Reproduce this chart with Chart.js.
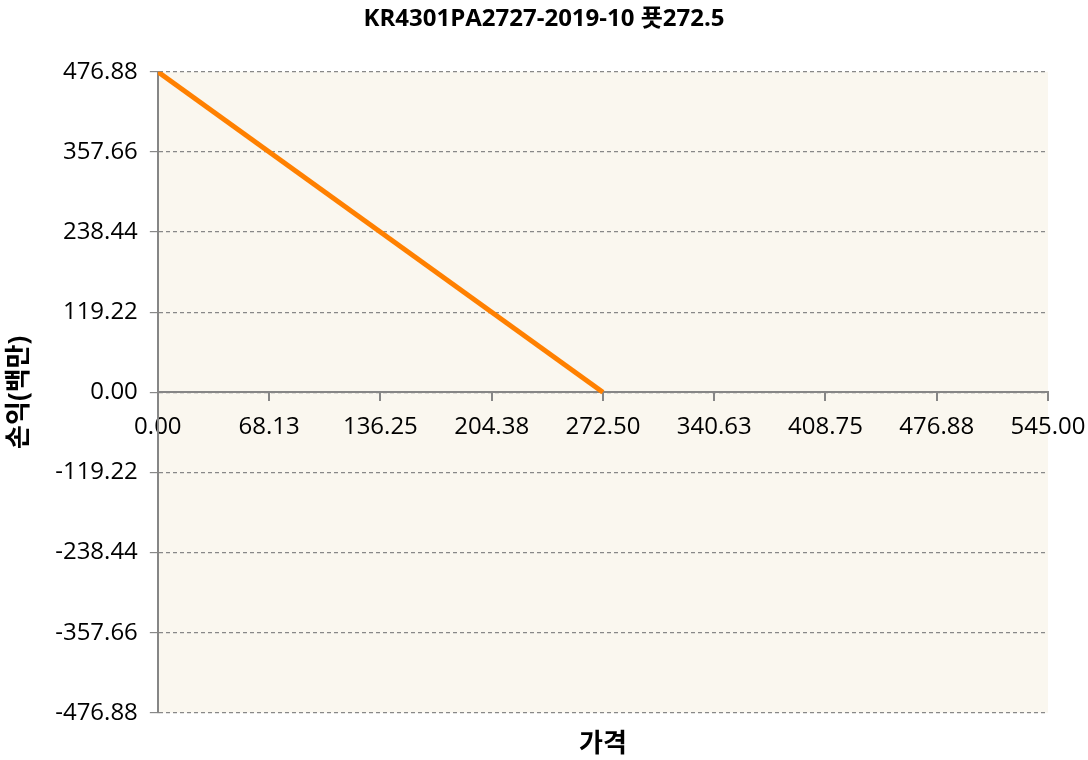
<!DOCTYPE html>
<html>
<head>
<meta charset="utf-8">
<script src="https://cdn.jsdelivr.net/npm/chart.js@4.4.1/dist/chart.umd.min.js"></script>
<style>
  html, body { margin: 0; padding: 0; background: #fff; }
  #wrap { width: 1088px; height: 760px; }
</style>
</head>
<body>
<div id="wrap"><canvas id="chart"></canvas></div>
<script>
const chartTitle = "KR4301PA2727-2019-10 푯272.5";
const xTitle = "가격";
const yTitle = "손익(백만)";

// payoff line: price vs profit
const prices = [0, 272.5];
const profits = [476.88, 0];

const xTickValues = [0, 68.125, 136.25, 204.375, 272.5, 340.625, 408.75, 476.875, 545];
const xTickLabels = ["0.00", "68.13", "136.25", "204.38", "272.50", "340.63", "408.75", "476.88", "545.00"];
const yTickValues = [-476.88, -357.66, -238.44, -119.22, 0, 119.22, 238.44, 357.66, 476.88];
const yTickLabels = ["-476.88", "-357.66", "-238.44", "-119.22", "0.00", "119.22", "238.44", "357.66", "476.88"];

const fontFamily = "'Open Sans', 'Noto Sans CJK KR', sans-serif";

// plot area background
const plotBg = {
  id: "plotBg",
  beforeDraw(chart) {
    const a = chart.chartArea;
    const ctx = chart.ctx;
    ctx.save();
    ctx.fillStyle = "#faf7ef";
    ctx.fillRect(a.left, a.top, a.right - a.left, a.bottom - a.top);
    ctx.restore();
  }
};

let chart;
const ctx = document.getElementById("chart").getContext("2d");
chart = new Chart(ctx, {
  type: "line",
  data: {
    datasets: [{
      data: prices.map((p, i) => ({ x: p, y: profits[i] })),
      borderColor: "#ff8000",
      borderWidth: 5,
      pointRadius: 0,
      fill: false
    }]
  },
  options: {
    responsive: true,
    maintainAspectRatio: false,
    animation: false,
    layout: { padding: 0 },
    plugins: {
      legend: { display: false },
      tooltip: { enabled: false },
      title: {
        display: true,
        text: chartTitle,
        color: "#000",
        font: { family: fontFamily, size: 24, weight: "bold" },
        padding: { top: 5, bottom: 38 }
      }
    },
    scales: {
      x: {
        type: "linear",
        position: { y: 0 },
        min: 0,
        max: 545,
        afterBuildTicks: s => { s.ticks = xTickValues.map(v => ({ value: v })); },
        afterFit: s => { s.paddingLeft = 0; s.paddingRight = 40; },
        ticks: {
          color: "#000",
          font: { family: fontFamily, size: 24 },
          padding: 12,
          maxRotation: 0,
          autoSkip: false,
          callback: (v, i) => xTickLabels[i]
        },
        grid: { drawOnChartArea: false, drawTicks: true, tickLength: 8, color: "#868686", lineWidth: 2 },
        border: { color: "#868686", width: 2 }
      },
      xTitleAxis: {
        type: "linear",
        position: "bottom",
        min: 0,
        max: 545,
        ticks: { display: false },
        grid: { display: false, drawTicks: false },
        border: { display: false },
        title: {
          display: true,
          text: xTitle,
          color: "#000",
          font: { family: fontFamily, size: 26, weight: "bold" },
          padding: { top: 16, bottom: 0 }
        }
      },
      y: {
        type: "linear",
        position: "left",
        min: -476.88,
        max: 476.88,
        afterBuildTicks: s => { s.ticks = yTickValues.map(v => ({ value: v })); },
        ticks: {
          color: "#000",
          font: { family: fontFamily, size: 24 },
          padding: 12,
          autoSkip: false,
          callback: (v, i) => yTickLabels[i]
        },
        grid: { color: "#888", lineWidth: 1.2, tickLength: 8 },
        border: { color: "#868686", width: 2, dash: [4, 3] },
        title: {
          display: true,
          text: yTitle,
          color: "#000",
          font: { family: fontFamily, size: 26, weight: "bold" },
          padding: { top: 4, bottom: 8 }
        }
      }
    }
  },
  plugins: [plotBg]
});
</script>
</body>
</html>
